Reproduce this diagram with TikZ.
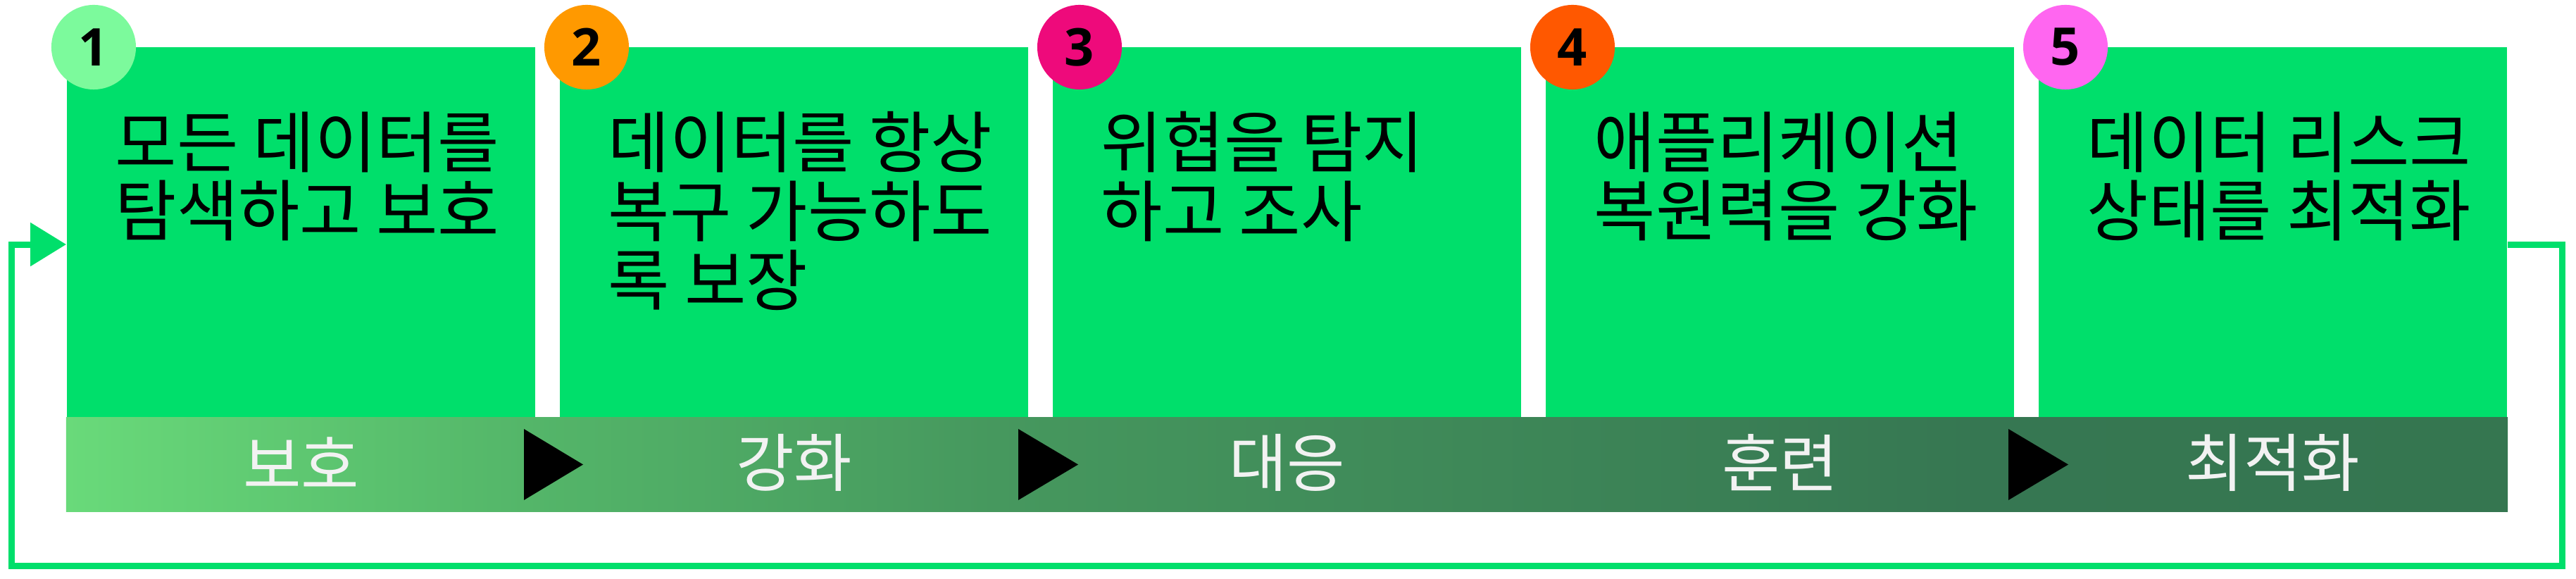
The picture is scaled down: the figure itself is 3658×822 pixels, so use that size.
\documentclass[tikz,border=0pt]{standalone}
\usepackage{fontspec}
\newfontfamily\kr{Noto Sans CJK KR}
\newfontfamily\numf{Open Sans}
\usetikzlibrary{arrows.meta}
\definecolor{boxgreen}{HTML}{00DF6B}
\definecolor{cone}{HTML}{7CFA9C}
\definecolor{ctwo}{HTML}{FF9900}
\definecolor{cthree}{HTML}{EE0A7B}
\definecolor{cfour}{HTML}{FF5800}
\definecolor{cfive}{HTML}{FF66F0}
\definecolor{labelwhite}{HTML}{F2F2F2}
\definecolor{barA}{RGB}{105,218,122}
\definecolor{barB}{RGB}{85,184,106}
\definecolor{barC}{RGB}{70,152,94}
\definecolor{barD}{RGB}{54,119,82}
\definecolor{barE}{RGB}{53,118,80}
\pgfdeclarehorizontalshading{barshade}{100bp}{color(0bp)=(barA); color(25bp)=(barA); color(33.75bp)=(barB); color(44bp)=(barC); color(64bp)=(barD); color(75bp)=(barE); color(100bp)=(barE)}
\tikzset{
  stepbox/.style={rectangle, fill=boxgreen, draw=none, inner sep=0pt,
    minimum width=6.65cm, minimum height=5.26cm},
  barbox/.style={rectangle, shade, shading=barshade, draw=none, inner sep=0pt,
    minimum width=34.65cm, minimum height=1.33cm},
  numcirc/.style={circle, draw=none, inner sep=0pt, minimum size=1.2cm,
    font=\numf\bfseries\fontsize{21}{21}\selectfont, text=black},
  titletext/.style={anchor=north west, inner sep=0pt, align=left,
    font=\kr\fontsize{27}{27.8}\selectfont, text=black},
  bartext/.style={inner sep=0pt, font=\kr\fontsize{25.5}{25.5}\selectfont, text=labelwhite},
  loopline/.style={draw=boxgreen, line width=0.09cm, line join=miter,
    -{Triangle[length=0.51cm,width=0.6cm]}},
  tri/.style={fill=black}
}
\begin{document}
\begin{tikzpicture}[x=0.01cm,y=-0.01cm]
\useasboundingbox (0,0) rectangle (3658,822);
% boxes
\node[stepbox] (b1) at (427.5,330) {};
\node[stepbox] (b2) at (1127.5,330) {};
\node[stepbox] (b3) at (1827.5,330) {};
\node[stepbox] (b4) at (2527.5,330) {};
\node[stepbox] (b5) at (3227.5,330) {};
% bottom bar
\node[barbox] (bar) at (1827.5,659.5) {};
% arrows in bar
\fill[tri] (744,609) -- (828,659.5) -- (744,710) -- cycle;
\fill[tri] (1446,609) -- (1531,659.5) -- (1446,710) -- cycle;
\fill[tri] (2852,609) -- (2937,659.5) -- (2852,710) -- cycle;
% bar labels
\node[bartext] (l1) at (427.5,657) {보호};
\node[bartext] (l2) at (1127.5,657) {강화};
\node[bartext] (l3) at (1827.5,657) {대응};
\node[bartext] (l4) at (2527.5,657) {훈련};
\node[bartext] (l5) at (3227.5,657) {최적화};
% titles
\node[titletext] (t1) at (163,158) {모든 데이터를\\탐색하고 보호};
\node[titletext] (t2) at (863,158) {데이터를 항상\\복구 가능하도\\록 보장};
\node[titletext] (t3) at (1563,158) {위협을 탐지\\하고 조사};
\node[titletext] (t4) at (2263,158) {애플리케이션\\복원력을 강화};
\node[titletext] (t5) at (2963,158) {데이터 리스크\\상태를 최적화};
% number circles
\node[numcirc, fill=cone] (n1) at (133,67) {1};
\node[numcirc, fill=ctwo] (n2) at (833,67) {2};
\node[numcirc, fill=cthree] (n3) at (1533,67) {3};
\node[numcirc, fill=cfour] (n4) at (2233,67) {4};
\node[numcirc, fill=cfive] (n5) at (2933,67) {5};
% loop connector
\coordinate (lr) at (3638,803.5);
\coordinate (ll) at (16.5,803.5);
\draw[loopline] ([yshift=-0.17cm]b5.east) -| (lr) -- (ll) |- ([yshift=-0.17cm]b1.west);
\end{tikzpicture}
\end{document}
